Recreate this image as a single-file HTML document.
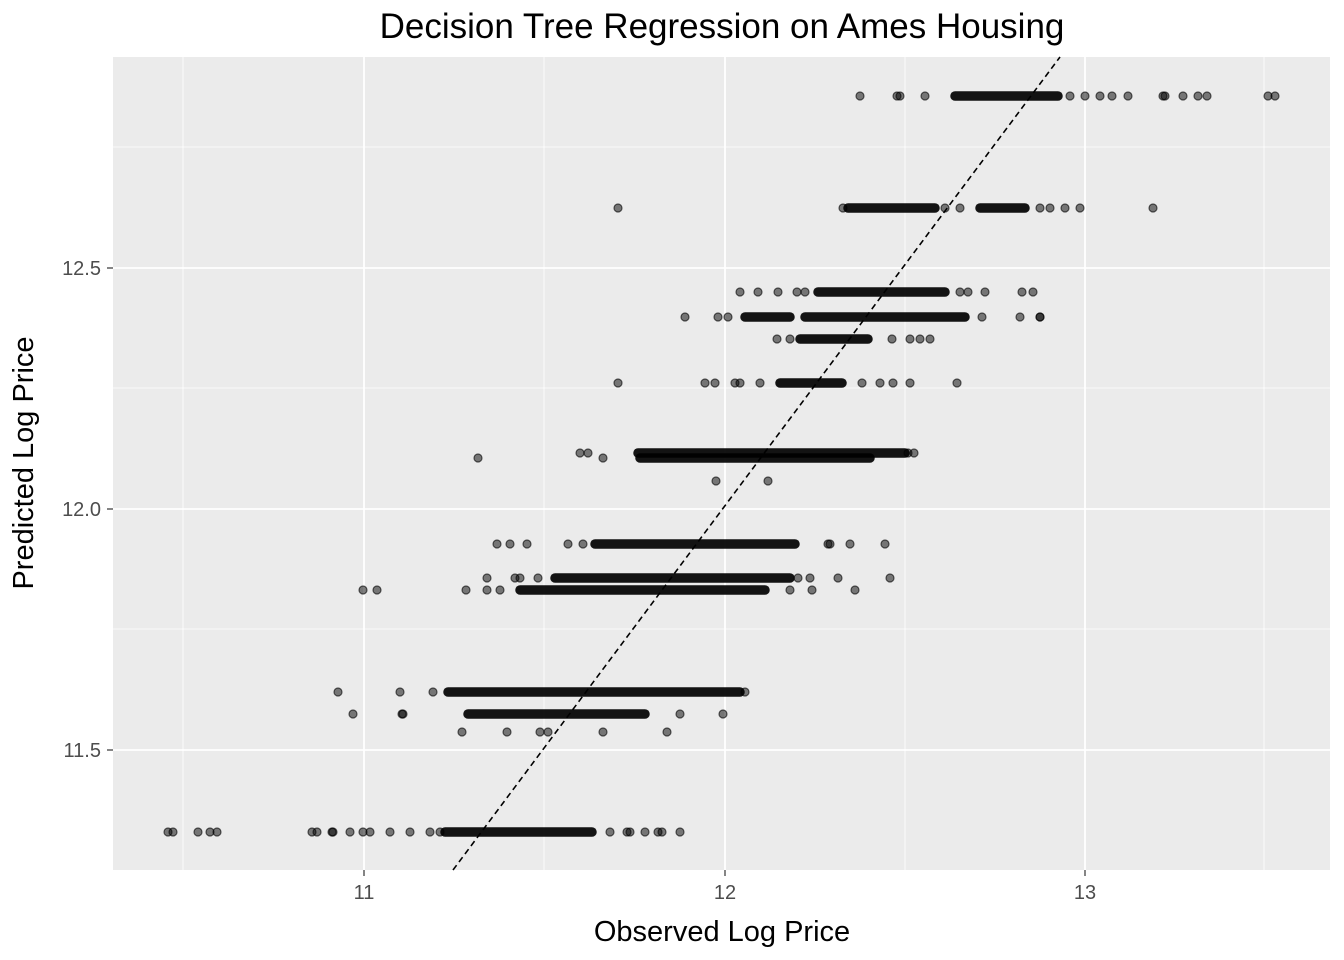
<!DOCTYPE html>
<html><head><meta charset="utf-8"><style>
html,body{margin:0;padding:0;background:#fff;}
svg{display:block;font-family:"Liberation Sans",sans-serif;}
</style></head><body>
<svg width="1344" height="960" viewBox="0 0 1344 960">
<rect x="113" y="57" width="1217" height="813" fill="#ebebeb"/>
<g stroke="#fff" stroke-width="0.8">
<line x1="183" y1="57" x2="183" y2="870"/><line x1="544" y1="57" x2="544" y2="870"/><line x1="905" y1="57" x2="905" y2="870"/><line x1="1264" y1="57" x2="1264" y2="870"/>
<line x1="113" y1="147" x2="1330" y2="147"/><line x1="113" y1="388" x2="1330" y2="388"/><line x1="113" y1="629" x2="1330" y2="629"/>
</g>
<g stroke="#fff" stroke-width="1.8">
<line x1="364" y1="57" x2="364" y2="870"/><line x1="725" y1="57" x2="725" y2="870"/><line x1="1085" y1="57" x2="1085" y2="870"/>
<line x1="113" y1="268" x2="1330" y2="268"/><line x1="113" y1="509" x2="1330" y2="509"/><line x1="113" y1="750" x2="1330" y2="750"/>
</g>
<g stroke="#000" stroke-opacity="0.92" stroke-width="9.5" stroke-linecap="round">
<line x1="955" y1="96" x2="1058" y2="96"/>
<line x1="848" y1="208" x2="935" y2="208"/><line x1="980" y1="208" x2="1025" y2="208"/>
<line x1="818" y1="292" x2="945" y2="292"/>
<line x1="805" y1="317" x2="965" y2="317"/><line x1="745" y1="317" x2="790" y2="317"/>
<line x1="800" y1="339" x2="868" y2="339"/>
<line x1="780" y1="383" x2="842" y2="383"/>
<line x1="638" y1="453" x2="905" y2="453"/><line x1="640" y1="458" x2="870" y2="458"/>
<line x1="595" y1="544" x2="795" y2="544"/>
<line x1="555" y1="578" x2="790" y2="578"/>
<line x1="520" y1="590" x2="765" y2="590"/>
<line x1="448" y1="692" x2="740" y2="692"/>
<line x1="468" y1="714" x2="645" y2="714"/>
<line x1="445" y1="832" x2="592" y2="832"/>
</g>
<g fill="#000" fill-opacity="0.5" stroke="#000" stroke-opacity="0.6" stroke-width="1.2">
<circle cx="860" cy="96" r="4"/><circle cx="897" cy="96" r="4"/><circle cx="900" cy="96" r="4"/><circle cx="925" cy="96" r="4"/><circle cx="1070" cy="96" r="4"/><circle cx="1085" cy="96" r="4"/><circle cx="1100" cy="96" r="4"/><circle cx="1112" cy="96" r="4"/><circle cx="1128" cy="96" r="4"/><circle cx="1163" cy="96" r="4"/><circle cx="1165" cy="96" r="4"/><circle cx="1183" cy="96" r="4"/><circle cx="1198" cy="96" r="4"/><circle cx="1207" cy="96" r="4"/><circle cx="1268" cy="96" r="4"/><circle cx="1275" cy="96" r="4"/>
<circle cx="618" cy="208" r="4"/><circle cx="843" cy="208" r="4"/><circle cx="945" cy="208" r="4"/><circle cx="960" cy="208" r="4"/><circle cx="1040" cy="208" r="4"/><circle cx="1050" cy="208" r="4"/><circle cx="1065" cy="208" r="4"/><circle cx="1080" cy="208" r="4"/><circle cx="1153" cy="208" r="4"/>
<circle cx="740" cy="292" r="4"/><circle cx="758" cy="292" r="4"/><circle cx="778" cy="292" r="4"/><circle cx="797" cy="292" r="4"/><circle cx="805" cy="292" r="4"/><circle cx="960" cy="292" r="4"/><circle cx="968" cy="292" r="4"/><circle cx="985" cy="292" r="4"/><circle cx="1022" cy="292" r="4"/><circle cx="1033" cy="292" r="4"/>
<circle cx="685" cy="317" r="4"/><circle cx="718" cy="317" r="4"/><circle cx="728" cy="317" r="4"/><circle cx="982" cy="317" r="4"/><circle cx="1020" cy="317" r="4"/><circle cx="1040" cy="317" r="4"/><circle cx="1040" cy="317" r="4"/>
<circle cx="777" cy="339" r="4"/><circle cx="790" cy="339" r="4"/><circle cx="892" cy="339" r="4"/><circle cx="910" cy="339" r="4"/><circle cx="920" cy="339" r="4"/><circle cx="930" cy="339" r="4"/>
<circle cx="618" cy="383" r="4"/><circle cx="705" cy="383" r="4"/><circle cx="715" cy="383" r="4"/><circle cx="735" cy="383" r="4"/><circle cx="740" cy="383" r="4"/><circle cx="760" cy="383" r="4"/><circle cx="862" cy="383" r="4"/><circle cx="880" cy="383" r="4"/><circle cx="893" cy="383" r="4"/><circle cx="910" cy="383" r="4"/><circle cx="957" cy="383" r="4"/>
<circle cx="478" cy="458" r="4"/><circle cx="580" cy="453" r="4"/><circle cx="588" cy="453" r="4"/><circle cx="603" cy="458" r="4"/><circle cx="908" cy="453" r="4"/><circle cx="914" cy="453" r="4"/>
<circle cx="716" cy="481" r="4"/><circle cx="768" cy="481" r="4"/>
<circle cx="497" cy="544" r="4"/><circle cx="510" cy="544" r="4"/><circle cx="527" cy="544" r="4"/><circle cx="568" cy="544" r="4"/><circle cx="583" cy="544" r="4"/><circle cx="828" cy="544" r="4"/><circle cx="830" cy="544" r="4"/><circle cx="850" cy="544" r="4"/><circle cx="885" cy="544" r="4"/>
<circle cx="487" cy="578" r="4"/><circle cx="515" cy="578" r="4"/><circle cx="520" cy="578" r="4"/><circle cx="538" cy="578" r="4"/><circle cx="798" cy="578" r="4"/><circle cx="810" cy="578" r="4"/><circle cx="838" cy="578" r="4"/><circle cx="890" cy="578" r="4"/>
<circle cx="363" cy="590" r="4"/><circle cx="377" cy="590" r="4"/><circle cx="466" cy="590" r="4"/><circle cx="487" cy="590" r="4"/><circle cx="500" cy="590" r="4"/><circle cx="790" cy="590" r="4"/><circle cx="812" cy="590" r="4"/><circle cx="855" cy="590" r="4"/>
<circle cx="338" cy="692" r="4"/><circle cx="400" cy="692" r="4"/><circle cx="433" cy="692" r="4"/><circle cx="745" cy="692" r="4"/>
<circle cx="353" cy="714" r="4"/><circle cx="402" cy="714" r="4"/><circle cx="403" cy="714" r="4"/><circle cx="680" cy="714" r="4"/><circle cx="723" cy="714" r="4"/>
<circle cx="462" cy="732" r="4"/><circle cx="507" cy="732" r="4"/><circle cx="540" cy="732" r="4"/><circle cx="548" cy="732" r="4"/><circle cx="603" cy="732" r="4"/><circle cx="667" cy="732" r="4"/>
<circle cx="168" cy="832" r="4"/><circle cx="173" cy="832" r="4"/><circle cx="198" cy="832" r="4"/><circle cx="210" cy="832" r="4"/><circle cx="217" cy="832" r="4"/><circle cx="312" cy="832" r="4"/><circle cx="317" cy="832" r="4"/><circle cx="332" cy="832" r="4"/><circle cx="333" cy="832" r="4"/><circle cx="350" cy="832" r="4"/><circle cx="363" cy="832" r="4"/><circle cx="370" cy="832" r="4"/><circle cx="390" cy="832" r="4"/><circle cx="410" cy="832" r="4"/><circle cx="430" cy="832" r="4"/><circle cx="440" cy="832" r="4"/><circle cx="610" cy="832" r="4"/><circle cx="627" cy="832" r="4"/><circle cx="630" cy="832" r="4"/><circle cx="645" cy="832" r="4"/><circle cx="658" cy="832" r="4"/><circle cx="662" cy="832" r="4"/><circle cx="680" cy="832" r="4"/>
</g>
<line x1="453" y1="870" x2="1060" y2="57" stroke="#000" stroke-width="1.6" stroke-dasharray="6,4"/>
<g stroke="#333" stroke-width="1.2">
<line x1="107" y1="268" x2="113" y2="268"/><line x1="107" y1="509" x2="113" y2="509"/><line x1="107" y1="750" x2="113" y2="750"/>
<line x1="364" y1="870" x2="364" y2="876"/><line x1="725" y1="870" x2="725" y2="876"/><line x1="1085" y1="870" x2="1085" y2="876"/>
</g>
<g fill="#4d4d4d" font-size="20">
<text x="101" y="275" text-anchor="end">12.5</text><text x="101" y="516" text-anchor="end">12.0</text><text x="101" y="757" text-anchor="end">11.5</text>
<text x="364" y="899" text-anchor="middle">11</text><text x="725" y="899" text-anchor="middle">12</text><text x="1085" y="899" text-anchor="middle">13</text>
</g>
<text x="722" y="941" text-anchor="middle" font-size="29" fill="#000">Observed Log Price</text>
<text transform="translate(33,463) rotate(-90)" text-anchor="middle" font-size="29" fill="#000">Predicted Log Price</text>
<text x="722" y="38" text-anchor="middle" font-size="35" fill="#000">Decision Tree Regression on Ames Housing</text>
</svg>
</body></html>
